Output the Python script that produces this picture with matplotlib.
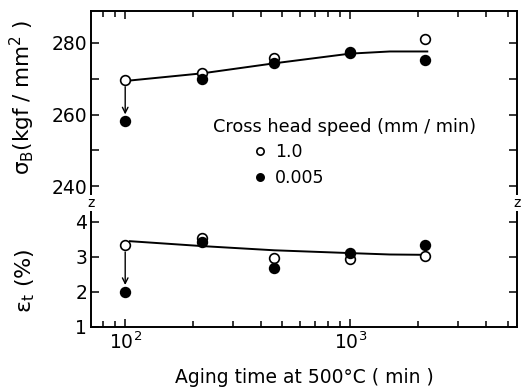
import matplotlib.pyplot as plt
from matplotlib.ticker import LogLocator, NullFormatter, FixedLocator

plt.rcParams['font.family'] = 'DejaVu Sans'
plt.rcParams['mathtext.default'] = 'regular'

# aging time (min)
time = [100, 220, 460, 1000, 2150]
# tensile strength, kgf/mm2
sigma_fast = [269.7, 271.7, 275.8, 277.5, 281.1]   # 1.0 mm/min
sigma_slow = [258.1, 270.0, 274.4, 277.2, 275.3]   # 0.005 mm/min
# elongation, %
eps_fast = [3.34, 3.54, 2.97, 2.94, 3.03]
eps_slow = [2.0, 3.43, 2.69, 3.11, 3.34]

# hand drawn trend lines
curve_t = [105, 220, 460, 1000, 1500, 2200]
sigma_curve = [269.5, 271.5, 274.3, 277.0, 277.6, 277.6]
eps_curve = [3.45, 3.31, 3.19, 3.11, 3.07, 3.06]

speed_labels = ['1.0', '0.005']

fig = plt.figure(figsize=(5.24, 3.92), dpi=100)
ax1 = fig.add_axes([0.174, 0.482, 0.813, 0.490])
ax2 = fig.add_axes([0.174, 0.166, 0.813, 0.316], sharex=ax1)

fs = 13.5
open_kw = dict(marker='o', ms=7, mfc='white', mec='black', mew=1.2, ls='none', zorder=3)
fill_kw = dict(marker='o', ms=7, mfc='black', mec='black', mew=1.2, ls='none', zorder=3)

# upper: strength
ax1.plot(curve_t, sigma_curve, color='black', lw=1.4, zorder=2)
h1, = ax1.plot(time, sigma_fast, label=speed_labels[0], **open_kw)
h2, = ax1.plot(time, sigma_slow, label=speed_labels[1], **fill_kw)
ax1.annotate('', xy=(time[0], sigma_slow[0]), xytext=(time[0], sigma_fast[0]),
             arrowprops=dict(arrowstyle='->', lw=1, color='black', shrinkA=5, shrinkB=5))

# lower: elongation
ax2.plot(curve_t, eps_curve, color='black', lw=1.4, zorder=2)
ax2.plot(time, eps_fast, **open_kw)
ax2.plot(time, eps_slow, **fill_kw)
ax2.annotate('', xy=(time[0], eps_slow[0]), xytext=(time[0], eps_fast[0]),
             arrowprops=dict(arrowstyle='->', lw=1, color='black', shrinkA=5, shrinkB=5))

ax1.set_xscale('log')
ax1.set_xlim(70.6, 5520)
ax1.set_ylim(235.3, 288.9)
ax2.set_ylim(1, 4.54)

ax2.xaxis.set_major_locator(FixedLocator([100, 1000]))
ax2.set_xticklabels(['$10^2$', '$10^3$'])
ax2.xaxis.set_minor_locator(LogLocator(base=10, subs=range(2, 10)))
ax2.xaxis.set_minor_formatter(NullFormatter())

ax1.set_yticks([240, 250, 260, 270, 280])
ax1.set_yticklabels(['240', '', '260', '', '280'])
ax2.set_yticks([1, 2, 3, 4])

ax1.spines['bottom'].set_visible(False)
ax2.spines['top'].set_visible(False)
for ax in (ax1, ax2):
    for s in ax.spines.values():
        s.set_linewidth(1.4)
    ax.tick_params(which='both', direction='in', right=True, labelsize=fs, width=1.1)
    ax.tick_params(which='major', length=6, pad=3)
    ax.tick_params(which='minor', length=4)
ax1.tick_params(which='both', top=True, bottom=False, labelbottom=False)
ax2.tick_params(which='both', top=False, bottom=True)

# axis break marks
for xb in (0, 1):
    ax2.text(xb, 1, 'z', transform=ax2.transAxes, ha='center', va='center', fontsize=10,
             bbox=dict(fc='white', ec='none', pad=0.5), clip_on=False, zorder=5)

ax1.set_ylabel(r'$\sigma_B$(kgf / mm$^2$ )', fontsize=15.5)
ax1.yaxis.set_label_coords(-0.127, 0.55)
ax2.set_ylabel(r'$\varepsilon_t$ (%)', fontsize=16)
ax2.yaxis.set_label_coords(-0.127, 0.37)
ax2.set_xlabel('Aging time at 500°C ( min )', fontsize=fs)
ax2.xaxis.set_label_coords(0.5, -0.33)

ax1.text(0.286, 0.396, 'Cross head speed (mm / min)', transform=ax1.transAxes,
         fontsize=12.8, va='center')
ax1.legend(handles=[h1, h2], loc='upper left', bbox_to_anchor=(0.375, 0.3125),
           frameon=False, fontsize=12.5, handlelength=1, handletextpad=0.4,
           borderpad=0, borderaxespad=0, labelspacing=0.45, markerscale=0.75)

fig.savefig('out.png', dpi=100)
